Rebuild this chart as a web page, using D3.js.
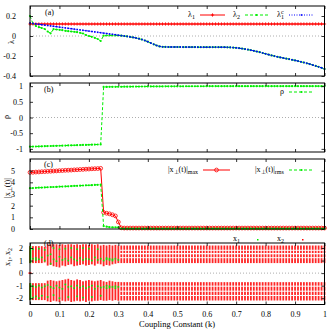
<!DOCTYPE html>
<html>
<head>
<meta charset="utf-8">
<script src="https://cdn.jsdelivr.net/npm/d3@7"></script>
<style>
body { margin: 0; background: #fff; }
svg text { font-family: "Liberation Serif", "Times New Roman", serif; font-size: 8px; fill: #000; }
</style>
</head>
<body>
<div id="chart"></div>
<script>
// coupling constant grid, 0 .. 1 in steps of 0.01
var kValues = d3.range(0, 101).map(function (i) { return i / 100; });

var xTicks = [0, 0.1, 0.2, 0.3, 0.4, 0.5, 0.6, 0.7, 0.8, 0.9, 1];

// panel (a)
var lambda1 = [
    0.12, 0.12, 0.12, 0.12, 0.12, 0.12, 0.12, 0.12, 0.12, 0.12,
    0.12, 0.12, 0.12, 0.12, 0.12, 0.12, 0.12, 0.12, 0.12, 0.12,
    0.12, 0.12, 0.12, 0.12, 0.12, 0.12, 0.12, 0.12, 0.12, 0.12,
    0.12, 0.12, 0.12, 0.12, 0.12, 0.12, 0.12, 0.12, 0.12, 0.12,
    0.12, 0.12, 0.12, 0.12, 0.12, 0.12, 0.12, 0.12, 0.12, 0.12,
    0.12, 0.12, 0.12, 0.12, 0.12, 0.12, 0.12, 0.12, 0.12, 0.12,
    0.12, 0.12, 0.12, 0.12, 0.12, 0.12, 0.12, 0.12, 0.12, 0.12,
    0.12, 0.12, 0.12, 0.12, 0.12, 0.12, 0.12, 0.12, 0.12, 0.12,
    0.12, 0.12, 0.12, 0.12, 0.12, 0.12, 0.12, 0.12, 0.12, 0.12,
    0.12, 0.12, 0.12, 0.12, 0.12, 0.12, 0.12, 0.12, 0.12, 0.12,
    0.12
];
var lambda2 = [
    0.200, 0.125, 0.100, 0.088, 0.080, 0.070, 0.045, 0.027, 0.068, 0.065,
    0.062, 0.058, 0.052, 0.048, 0.045, 0.042, 0.038, 0.032, 0.025, 0.010,
    0.000, -0.008, -0.018, -0.030, -0.050, 0.003, 0.005, 0.006, 0.006, 0.006,
    0.005, 0.003, 0.000, -0.004, -0.009, -0.014, -0.020, -0.027, -0.035, -0.045,
    -0.057, -0.070, -0.083, -0.095, -0.104, -0.108, -0.109, -0.110, -0.110, -0.110,
    -0.110, -0.110, -0.111, -0.111, -0.111, -0.111, -0.111, -0.112, -0.112, -0.112,
    -0.112, -0.112, -0.112, -0.112, -0.112, -0.112, -0.112, -0.113, -0.114, -0.116,
    -0.118, -0.122, -0.126, -0.131, -0.136, -0.142, -0.148, -0.155, -0.162, -0.170,
    -0.178, -0.186, -0.194, -0.201, -0.208, -0.214, -0.220, -0.226, -0.232, -0.238,
    -0.244, -0.251, -0.258, -0.265, -0.273, -0.281, -0.290, -0.299, -0.308, -0.318,
    -0.330
];
var lambda1c = [
    0.130, 0.125, 0.121, 0.117, 0.113, 0.109, 0.105, 0.101, 0.097, 0.093,
    0.089, 0.085, 0.081, 0.077, 0.073, 0.069, 0.065, 0.061, 0.057, 0.053,
    0.049, 0.045, 0.041, 0.037, 0.033, 0.029, 0.025, 0.021, 0.017, 0.013,
    0.008, 0.004, 0.000, -0.004, -0.009, -0.014, -0.020, -0.027, -0.035, -0.045,
    -0.057, -0.070, -0.083, -0.095, -0.104, -0.108, -0.109, -0.110, -0.110, -0.110,
    -0.110, -0.110, -0.111, -0.111, -0.111, -0.111, -0.111, -0.112, -0.112, -0.112,
    -0.112, -0.112, -0.112, -0.112, -0.112, -0.112, -0.112, -0.113, -0.114, -0.116,
    -0.118, -0.122, -0.126, -0.131, -0.136, -0.142, -0.148, -0.155, -0.162, -0.170,
    -0.178, -0.186, -0.194, -0.201, -0.208, -0.214, -0.220, -0.226, -0.232, -0.238,
    -0.244, -0.251, -0.258, -0.265, -0.273, -0.281, -0.290, -0.299, -0.308, -0.318,
    -0.330
];
var lambdaTicks = [-0.4, -0.2, 0, 0.2];

// panel (b)
var rho = [
    -0.930, -0.927, -0.924, -0.921, -0.918, -0.915, -0.912, -0.909, -0.906, -0.903,
    -0.900, -0.897, -0.894, -0.891, -0.888, -0.885, -0.882, -0.879, -0.876, -0.873,
    -0.870, -0.867, -0.864, -0.861, -0.858, 0.975, 0.976, 0.977, 0.978, 0.979,
    0.980, 0.981, 0.982, 0.983, 0.984, 0.985, 0.986, 0.987, 0.988, 0.989,
    0.990, 0.990, 0.991, 0.991, 0.992, 0.992, 0.993, 0.993, 0.994, 0.994,
    0.995, 0.995, 0.995, 0.996, 0.996, 0.996, 0.997, 0.997, 0.997, 0.997,
    0.998, 0.998, 0.998, 0.998, 0.998, 0.998, 0.999, 0.999, 0.999, 0.999,
    0.999, 0.999, 0.999, 0.999, 0.999, 1.000, 1.000, 1.000, 1.000, 1.000,
    1.000, 1.000, 1.000, 1.000, 1.000, 1.000, 1.000, 1.000, 1.000, 1.000,
    1.000, 1.000, 1.000, 1.000, 1.000, 1.000, 1.000, 1.000, 1.000, 1.000,
    1.000
];
var rhoTicks = [-1, -0.5, 0, 0.5, 1];

// panel (c)
var xPerpMax = [
    4.85, 4.86, 4.88, 4.89, 4.91, 4.92, 4.94, 4.95, 4.97, 4.98,
    5.00, 5.01, 5.03, 5.04, 5.05, 5.07, 5.08, 5.10, 5.11, 5.13,
    5.14, 5.16, 5.17, 5.18, 5.20, 1.42, 1.35, 1.30, 1.22, 1.12,
    0.60, 0.10, 0.08, 0.08, 0.08, 0.08, 0.08, 0.08, 0.08, 0.08,
    0.08, 0.08, 0.08, 0.08, 0.08, 0.08, 0.08, 0.08, 0.08, 0.08,
    0.08, 0.08, 0.08, 0.08, 0.08, 0.08, 0.08, 0.08, 0.08, 0.08,
    0.08, 0.08, 0.08, 0.08, 0.08, 0.08, 0.08, 0.08, 0.08, 0.08,
    0.08, 0.08, 0.08, 0.08, 0.08, 0.08, 0.08, 0.08, 0.08, 0.08,
    0.08, 0.08, 0.08, 0.08, 0.08, 0.08, 0.08, 0.08, 0.08, 0.08,
    0.08, 0.08, 0.08, 0.08, 0.08, 0.08, 0.08, 0.08, 0.08, 0.08,
    0.08
];
var xPerpRms = [
    3.50, 3.51, 3.53, 3.54, 3.55, 3.56, 3.58, 3.59, 3.60, 3.61,
    3.63, 3.64, 3.65, 3.66, 3.68, 3.69, 3.70, 3.71, 3.73, 3.74,
    3.75, 3.76, 3.78, 3.79, 3.80, 0.25, 0.20, 0.16, 0.15, 0.15,
    0.14, 0.04, 0.03, 0.03, 0.03, 0.03, 0.03, 0.03, 0.03, 0.03,
    0.03, 0.03, 0.03, 0.03, 0.03, 0.03, 0.03, 0.03, 0.03, 0.03,
    0.03, 0.03, 0.03, 0.03, 0.03, 0.03, 0.03, 0.03, 0.03, 0.03,
    0.03, 0.03, 0.03, 0.03, 0.03, 0.03, 0.03, 0.03, 0.03, 0.03,
    0.03, 0.03, 0.03, 0.03, 0.03, 0.03, 0.03, 0.03, 0.03, 0.03,
    0.03, 0.03, 0.03, 0.03, 0.03, 0.03, 0.03, 0.03, 0.03, 0.03,
    0.03, 0.03, 0.03, 0.03, 0.03, 0.03, 0.03, 0.03, 0.03, 0.03,
    0.03
];
var xPerpTicks = [0, 1, 2, 3, 4, 5];

// panel (d): spread of x2 for k = 0 .. 0.30 (upper and lower lobes)
var x2UpTop = [2.15, 2.15, 2.15, 2.15, 2.15, 2.1, 2.3, 2.3, 2.3, 2.3, 2.25, 2.3, 2.25, 2.3, 2.3, 2.25,
    2.3, 2.25, 2.3, 2.3, 2.25, 2.3, 2.25, 2.3, 2.2, 2.25, 2.2, 2.25, 2.2, 2.25, 2.2];
var x2UpBot = [0.8, 0.8, 0.8, 0.8, 0.8, 0.85, 0.6, 0.65, 0.55, 0.5, 0.45, 0.6, 0.55, 0.65, 0.7, 0.55,
    0.6, 0.65, 0.7, 0.6, 0.65, 0.7, 0.6, 0.75, 0.7, 0.55, 0.65, 0.6, 0.7, 0.75, 0.8];
var x2LoTop = [-0.8, -0.8, -0.8, -0.8, -0.8, -0.8, -0.6, -0.55, -0.6, -0.65, -0.6, -0.55, -0.5, -0.45, -0.55, -0.6,
    -0.5, -0.55, -0.65, -0.6, -0.55, -0.6, -0.65, -0.6, -0.55, -0.65, -0.7, -0.6, -0.65, -0.7, -0.7];
var x2LoBot = [-2.15, -2.15, -2.15, -2.15, -2.15, -2.15, -2.25, -2.3, -2.2, -2.25, -2.3, -2.2, -2.25, -2.2, -2.3, -2.25,
    -2.2, -2.25, -2.2, -2.3, -2.2, -2.25, -2.2, -2.2, -2.15, -2.2, -2.2, -2.15, -2.2, -2.15, -2.2];
// periodic bands of x2 for k >= 0.31
var x2Bands = [[2.2, 1.86], [1.78, 1.6], [1.5, 1.27], [1.19, 0.8],
    [-0.72, -1.0], [-1.08, -1.4], [-1.48, -1.74], [-1.82, -2.18]];
// scattered x1 points [k, x1]
var x1Dots = [
    [0.01, 1.15], [0.01, 1.9], [0.01, -1.05], [0.01, -1.95],
    [0.02, 1.2], [0.02, 1.05], [0.02, -1.1], [0.02, -1.85],
    [0.03, 1.1], [0.03, 1.95], [0.03, -1.0], [0.03, -2.0],
    [0.04, 1.25], [0.04, -1.15], [0.04, -1.8],
    [0.05, 1.0], [0.05, 1.85], [0.05, -1.05],
    [0.06, 1.4], [0.06, -0.95], [0.06, -1.9],
    [0.07, 0.75], [0.07, 1.5], [0.07, -1.1],
    [0.08, 1.1], [0.08, 2.0], [0.08, -1.2], [0.08, -1.75],
    [0.09, 0.95], [0.09, -1.0],
    [0.10, 1.3], [0.10, 1.9], [0.10, -1.15], [0.10, -2.0],
    [0.11, 1.05], [0.11, -1.25],
    [0.12, 1.95], [0.12, 1.15], [0.12, -0.9],
    [0.13, 1.0], [0.13, -1.1], [0.13, -1.9],
    [0.14, 1.25], [0.14, 2.0], [0.14, -1.05],
    [0.15, 1.1], [0.15, -1.2],
    [0.16, 1.9], [0.16, 1.0], [0.16, -1.0], [0.16, -1.85],
    [0.17, 1.2], [0.17, -1.15],
    [0.18, 2.0], [0.18, 1.05], [0.18, -1.05], [0.18, -1.95],
    [0.19, 1.15], [0.19, -1.2],
    [0.20, 1.95], [0.20, 1.1], [0.20, -1.1],
    [0.21, 1.0], [0.21, -1.0], [0.21, -1.9],
    [0.22, 1.25], [0.22, -1.25],
    [0.23, 1.05], [0.23, 1.9], [0.23, -1.05],
    [0.24, 1.15], [0.24, -1.15], [0.24, -1.8],
    [0.25, 1.0], [0.25, -1.1],
    [0.26, 1.1], [0.26, 1.2], [0.26, -1.0], [0.26, -1.2],
    [0.27, 1.05], [0.27, 1.15], [0.27, -1.05], [0.27, -1.15],
    [0.28, 1.1], [0.28, 1.0], [0.28, -1.1],
    [0.29, 1.15], [0.29, -1.05], [0.29, -1.2],
    [0.30, 1.05], [0.30, -1.1]
];
var xTicksD = [-2, -1, 0, 1, 2];

var RED = "#ff0000", GREEN = "#00ee00", BLUE = "#0000ff";
var left = 30, right = 324.5;

var svg = d3.select("#chart").append("svg").attr("width", 331).attr("height", 331);

var x = d3.scaleLinear().domain([0, 1]).range([left, right]);
var fmt = function (d) { return String(+d.toFixed(2)); };

function makePanel(top, bottom, domain) {
    var y = d3.scaleLinear().domain(domain).range([bottom, top]);
    var g = svg.append("g");
    return { g: g, y: y, top: top, bottom: bottom };
}

function drawFrame(p, yTicks, pad, showX) {
    var g = p.g.append("g");
    g.append("g").attr("transform", "translate(" + left + ",0)")
        .call(d3.axisLeft(p.y).tickValues(yTicks).tickSize(-3).tickPadding(pad).tickFormat(fmt));
    g.append("g").attr("transform", "translate(" + right + ",0)")
        .call(d3.axisRight(p.y).tickValues(yTicks).tickSize(-3).tickFormat(""));
    g.append("g").attr("transform", "translate(0," + p.top + ")")
        .call(d3.axisTop(x).tickValues(xTicks).tickSize(-3).tickFormat(""));
    g.append("g").attr("transform", "translate(0," + p.bottom + ")")
        .call(d3.axisBottom(x).tickValues(xTicks).tickSize(-3).tickPadding(7).tickFormat(showX ? fmt : ""));
    g.selectAll(".domain").remove();
    g.selectAll(".tick line").attr("stroke", "#000").attr("stroke-width", 0.8);
    g.append("rect")
        .attr("x", left).attr("y", p.top)
        .attr("width", right - left).attr("height", p.bottom - p.top)
        .attr("fill", "none").attr("stroke", "#000").attr("stroke-width", 1);
}

function zeroLine(p) {
    p.g.append("line")
        .attr("x1", left).attr("x2", right)
        .attr("y1", p.y(0)).attr("y2", p.y(0))
        .attr("stroke", "#999").attr("stroke-width", 0.8).attr("stroke-dasharray", "1,2");
}

function series(p, values, color, dash, marker) {
    var pts = values.map(function (v, i) { return [kValues[i], v]; });
    p.g.append("path")
        .datum(pts)
        .attr("fill", "none").attr("stroke", color).attr("stroke-width", 1)
        .attr("stroke-dasharray", dash)
        .attr("d", d3.line().x(function (d) { return x(d[0]); }).y(function (d) { return p.y(d[1]); }));
    addMarkers(p.g, pts.map(function (d) { return [x(d[0]), p.y(d[1])]; }), color, marker);
}

function addMarkers(g, xy, color, marker) {
    var m = g.selectAll(null).data(xy).enter();
    if (marker === "plus") {
        m.append("path").attr("d", function (d) {
            return "M" + (d[0] - 1.6) + "," + d[1] + "h3.2M" + d[0] + "," + (d[1] - 1.6) + "v3.2";
        }).attr("stroke", color).attr("stroke-width", 0.9);
    } else if (marker === "dot") {
        m.append("circle").attr("cx", function (d) { return d[0]; }).attr("cy", function (d) { return d[1]; })
            .attr("r", 1.1).attr("fill", color);
    } else if (marker === "square") {
        m.append("rect").attr("x", function (d) { return d[0] - 0.8; }).attr("y", function (d) { return d[1] - 0.8; })
            .attr("width", 1.6).attr("height", 1.6).attr("fill", color);
    } else if (marker === "ring") {
        m.append("circle").attr("cx", function (d) { return d[0]; }).attr("cy", function (d) { return d[1]; })
            .attr("r", 1.9).attr("fill", "none").attr("stroke", color).attr("stroke-width", 0.8);
    }
}

// text with sub/superscripts: parts = [[text, "sub"|"sup"|null], ...]
function richText(g, px, py, parts, anchor, rotate) {
    var t = g.append("text")
        .attr("text-anchor", anchor || "start")
        .attr("transform", "translate(" + px + "," + py + ")" + (rotate ? " rotate(-90)" : ""));
    var shift = 0;
    parts.forEach(function (p) {
        var target = p[1] === "sub" ? 2 : p[1] === "sup" ? -3 : 0;
        var ts = t.append("tspan").attr("dy", target - shift).text(p[0]);
        if (p[1]) ts.style("font-size", "6px");
        if (p[2]) ts.attr("dx", p[2]);
        shift = target;
    });
    return t;
}

function legendLine(g, x1, x2, ly, color, dash, marker) {
    g.append("line").attr("x1", x1).attr("x2", x2).attr("y1", ly).attr("y2", ly)
        .attr("stroke", color).attr("stroke-width", 1).attr("stroke-dasharray", dash);
    addMarkers(g, [[(x1 + x2) / 2, ly]], color, marker);
}

// ---- panel (a)
var pa = makePanel(6, 76, [-0.4, 0.3]);
zeroLine(pa);
series(pa, lambda1, RED, null, "plus");
series(pa, lambda2, GREEN, "3,2", "dot");
series(pa, lambda1c, BLUE, "1,1.5", "square");
drawFrame(pa, lambdaTicks, 14, false);
pa.g.append("text").attr("x", 45).attr("y", 15).text("(a)");
richText(pa.g, 14, 42, [["λ", null]], "middle", true);
richText(pa.g, 188, 17, [["λ", null], ["1", "sub"]]);
legendLine(pa.g, 200, 225, 15, RED, null, "plus");
richText(pa.g, 233, 17, [["λ", null], ["2", "sub"]]);
legendLine(pa.g, 245, 268, 15, GREEN, "3,2", "dot");
richText(pa.g, 277, 17, [["λ", null], ["1", "sub"], ["c", "sup", -3]]);
legendLine(pa.g, 289, 314, 15, BLUE, "1,1.5", "square");

// ---- panel (b)
var pb = makePanel(83, 152, [-1.1, 1.1]);
zeroLine(pb);
series(pb, rho, GREEN, "3,2", "dot");
drawFrame(pb, rhoTicks, 7, false);
pb.g.append("text").attr("x", 44).attr("y", 92).text("(b)");
richText(pb.g, 9, 117, [["ρ", null]], "middle", true);
pb.g.append("text").attr("x", 280).attr("y", 94).text("ρ");
legendLine(pb.g, 289, 314, 92, GREEN, "3,2", "dot");

// ---- panel (c)
var pc = makePanel(159, 229, [0, 6]);
series(pc, xPerpMax, RED, null, "ring");
series(pc, xPerpRms, GREEN, "3,2", "dot");
drawFrame(pc, xPerpTicks, 15, false);
pc.g.append("text").attr("x", 44).attr("y", 167).text("(c)");
richText(pc.g, 9.5, 188, [["|x", null], ["⊥", "sub"], ["(t)|", null]], "middle", true);
richText(pc.g, 168, 172, [["|x", null], ["⊥", "sub"], ["(t)|", null], ["max", "sub"]]);
legendLine(pc.g, 203, 230, 170, RED, null, "ring");
richText(pc.g, 255, 172, [["|x", null], ["⊥", "sub"], ["(t)|", null], ["rms", "sub"]]);
legendLine(pc.g, 289, 314, 170, GREEN, "3,2", "dot");

// ---- panel (d)
var pd = makePanel(243, 304.5, [-2.5, 2.4]);
zeroLine(pd);
var early = kValues.slice(0, 31);
var spans = [];
early.forEach(function (k, i) {
    spans.push([k, x2UpTop[i], x2UpBot[i]]);
    spans.push([k, x2LoTop[i], x2LoBot[i]]);
});
kValues.slice(31).forEach(function (k) {
    x2Bands.forEach(function (b) { spans.push([k, b[0], b[1]]); });
});
pd.g.selectAll(null).data(spans).enter().append("rect")
    .attr("x", function (d) { return x(d[0]) - 0.9; })
    .attr("width", 1.8)
    .attr("y", function (d) { return pd.y(d[1]); })
    .attr("height", function (d) { return pd.y(d[2]) - pd.y(d[1]); })
    .attr("fill", RED).attr("opacity", 0.85);
// x2 = 0 point at k = 0
pd.g.append("rect").attr("x", x(0) - 1.5).attr("y", pd.y(0) - 0.75).attr("width", 3).attr("height", 1.5).attr("fill", RED);
// x1 at k = 0 follows the same lobes
pd.g.selectAll(null).data([[0, x2UpTop[0], x2UpBot[0]], [0, x2LoTop[0], x2LoBot[0]]]).enter().append("rect")
    .attr("x", function (d) { return x(d[0]) - 0.5; })
    .attr("width", 1.8)
    .attr("y", function (d) { return pd.y(d[1]); })
    .attr("height", function (d) { return pd.y(d[2]) - pd.y(d[1]); })
    .attr("fill", GREEN);
pd.g.selectAll(null).data(x1Dots).enter().append("rect")
    .attr("x", function (d) { return x(d[0]) - 0.8; })
    .attr("y", function (d) { return pd.y(d[1]) - 0.8; })
    .attr("width", 1.6).attr("height", 1.6)
    .attr("fill", GREEN);
drawFrame(pd, xTicksD, 7, true);
pd.g.append("text").attr("x", 44).attr("y", 246).text("(d)");
richText(pd.g, 9.5, 257, [["x", null], ["1", "sub"], [", x", null], ["2", "sub"]], "middle", true);
richText(pd.g, 233, 241, [["x", null], ["1", "sub"]]);
pd.g.append("rect").attr("x", 257).attr("y", 239).attr("width", 1.5).attr("height", 1.5).attr("fill", GREEN);
richText(pd.g, 277, 241, [["x", null], ["2", "sub"]]);
pd.g.append("rect").attr("x", 302).attr("y", 239).attr("width", 1.5).attr("height", 1.5).attr("fill", RED);

// x axis title
svg.append("text").attr("x", 177).attr("y", 327).attr("text-anchor", "middle")
    .style("font-size", "8.5px").text("Coupling Constant (k)");
</script>
</body>
</html>
